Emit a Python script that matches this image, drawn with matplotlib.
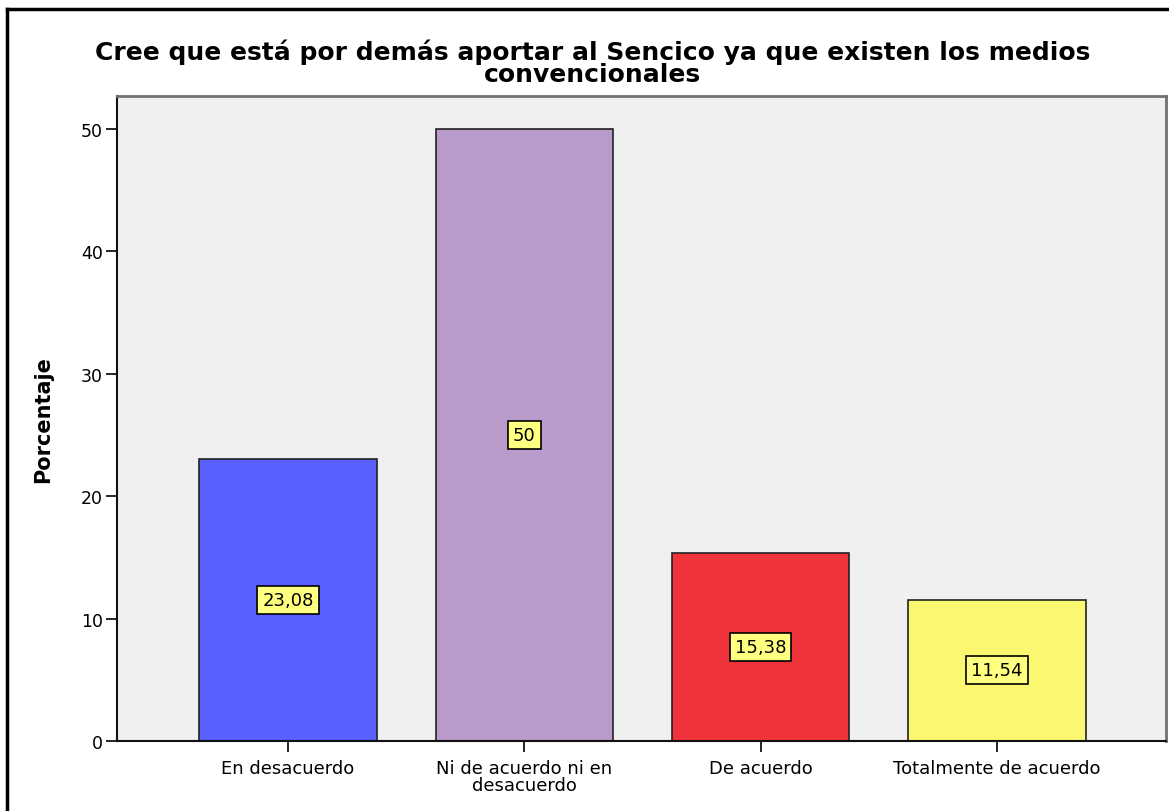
import matplotlib.pyplot as plt
from matplotlib.lines import Line2D

plt.rcParams['font.family'] = ['DejaVu Sans']

categories = ['En desacuerdo', 'Ni de acuerdo ni en\ndesacuerdo', 'De acuerdo', 'Totalmente de acuerdo']
values = [23.08, 50, 15.38, 11.54]
value_labels = ['23,08', '50', '15,38', '11,54']
colors = ['#5A5FFF', '#B99BCB', '#F0333B', '#FBF771']
yticks = [0, 10, 20, 30, 40, 50]

fig = plt.figure(figsize=(11.69, 8.12), dpi=100)
ax = fig.add_axes([117 / 1169, 1 - 742 / 812, (1166 - 117) / 1169, (742 - 97) / 812])
ax.set_facecolor('#F0F0F0')

x = list(range(len(categories)))
ax.bar(x, values, width=0.75, color=colors, edgecolor='#222222', linewidth=1.2, zorder=2)

for xi, v, lab in zip(x, values, value_labels):
    ax.text(xi, v / 2, lab, ha='center', va='center', fontsize=13, zorder=3,
            bbox=dict(boxstyle='square,pad=0.28', facecolor='#FFFF80', edgecolor='black', linewidth=1.2))

ax.set_xlim(-0.723, 3.715)
ax.set_ylim(0, 52.7)
ax.set_yticks(yticks)
ax.set_xticks(x)
ax.set_xticklabels(categories, fontsize=13, linespacing=0.9)
ax.tick_params(axis='y', labelsize=12.5, length=8, width=1.2, pad=2)
ax.tick_params(axis='x', length=8, width=1.2, pad=5)
ax.set_ylabel('Porcentaje', fontsize=15, fontweight='bold', labelpad=20)

for side in ['left', 'bottom']:
    ax.spines[side].set_color('#111111')
    ax.spines[side].set_linewidth(1.5)
for side in ['top', 'right']:
    ax.spines[side].set_color('#707070')
    ax.spines[side].set_linewidth(2)

fig.text(0.507, 1 - 63 / 812, 'Cree que está por demás aportar al Sencico ya que existen los medios\nconvencionales',
         ha='center', va='center', fontsize=18, fontweight='bold', linespacing=0.92)

# outer frame
fig.add_artist(Line2D([7 / 1169, 7 / 1169], [0, 1 - 10 / 812], color='black', linewidth=2.5))
fig.add_artist(Line2D([7 / 1169, 1], [1 - 10 / 812, 1 - 10 / 812], color='black', linewidth=2.5))

fig.savefig('out.png', dpi=100)
